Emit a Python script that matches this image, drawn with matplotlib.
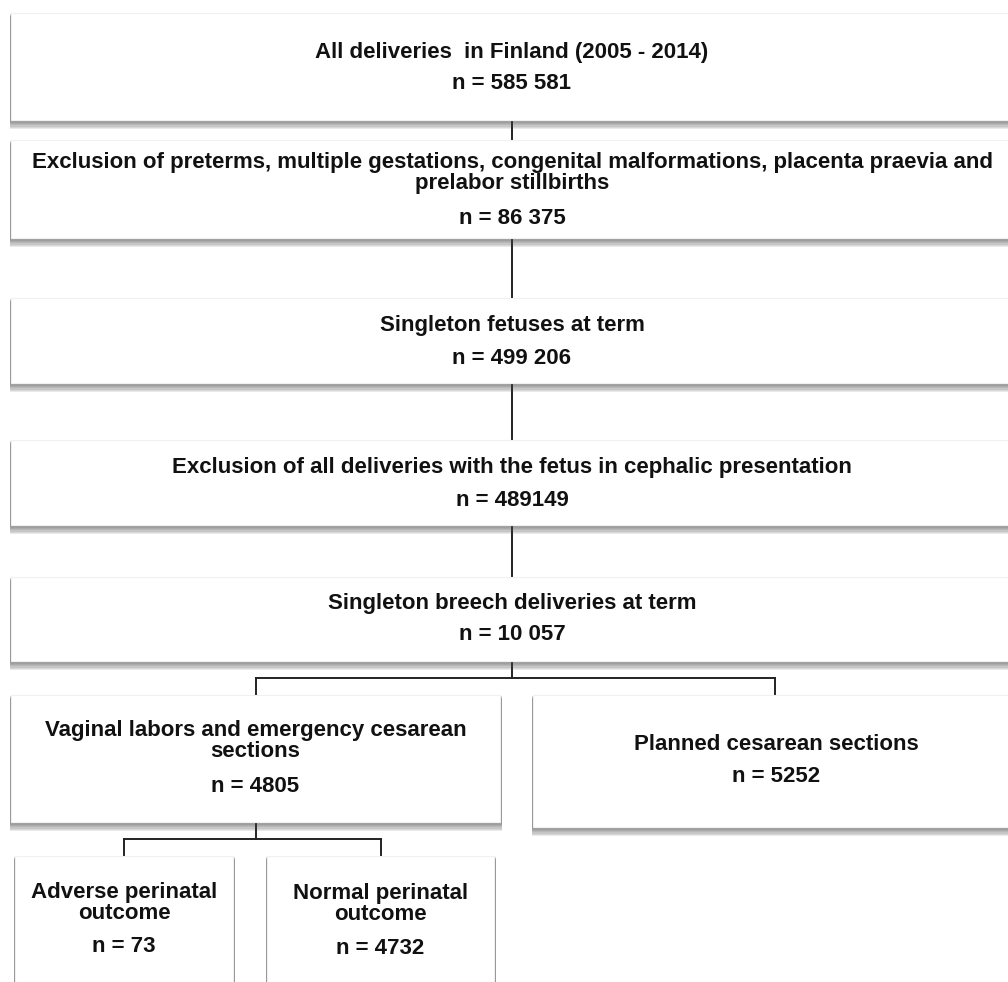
import matplotlib.pyplot as plt
from matplotlib.patches import Rectangle

# Flowchart content
titles = [
    'All deliveries  in Finland (2005 - 2014)',
    'Exclusion of preterms, multiple gestations, congenital malformations, placenta praevia and\nprelabor stillbirths',
    'Singleton fetuses at term',
    'Exclusion of all deliveries with the fetus in cephalic presentation',
    'Singleton breech deliveries at term',
    'Vaginal labors and emergency cesarean\nsections',
    'Planned cesarean sections',
    'Adverse perinatal\noutcome',
    'Normal perinatal\noutcome',
]
counts = ['585 581', '86 375', '499 206', '489149', '10 057', '4805', '5252', '73', '4732']

# layout (pixels): left, top, right, bottom, title y, count y
boxes = [
    (11, 13, 1013, 120, 52, 83),
    (11, 140, 1013, 238, 173, 218),
    (11, 298, 1013, 383, 326, 358),
    (11, 440, 1013, 525, 467, 500),
    (11, 577, 1013, 661, 604, 635),
    (11, 695, 500, 822, 741, 786),
    (533, 695, 1020, 827, 744, 777),
    (15, 856, 233, 1000, 903, 947),
    (267, 856, 494, 1000, 904, 949),
]

# parent -> children
links = [(0, [1]), (1, [2]), (2, [3]), (3, [4]), (4, [5, 6]), (5, [7, 8])]

W, H = 1008, 982
fig = plt.figure(figsize=(W / 100, H / 100), dpi=100)
ax = fig.add_axes([0, 0, 1, 1])
ax.set_xlim(0, W)
ax.set_ylim(H, 0)
ax.axis('off')

fs = 16
font = dict(family='Liberation Sans', fontweight='bold', fontsize=fs, color='#111111')

for (l, t, r, b, ty, cy), title, n in zip(boxes, titles, counts):
    # soft drop shadow
    for k in range(1, 8):
        ax.add_patch(Rectangle((l - 1.5, t + k * 0.5), r - l + 3, b - t + k * 0.8,
                               facecolor='#444444', edgecolor='none',
                               alpha=0.11, zorder=1))
    ax.add_patch(Rectangle((l, t), r - l, b - t, facecolor='white',
                           edgecolor='#f0f0f0', linewidth=0.8, zorder=2))
    cx = (l + r) / 2
    ax.text(cx, ty, title, ha='center', va='center', linespacing=1.0,
            zorder=3, **font)
    ax.text(cx, cy, 'n = ' + n, ha='center', va='center', zorder=3, **font)

lw = 1.4
for p, kids in links:
    l, t, r, b = boxes[p][:4]
    px = (l + r) / 2 if r < 1000 else 512
    if len(kids) == 1:
        kl, kt = boxes[kids[0]][0], boxes[kids[0]][1]
        ax.plot([px, px], [b, kt], color='#222222', lw=lw, zorder=0.5)
    else:
        tops = [boxes[k][1] for k in kids]
        cxs = [(boxes[k][0] + min(boxes[k][2], 1017)) / 2 for k in kids]
        mid = b + (min(tops) - b) * 0.5
        ax.plot([px, px], [b, mid], color='#222222', lw=lw, zorder=0.5)
        ax.plot([min(cxs), max(cxs)], [mid, mid], color='#222222', lw=lw, zorder=0.5)
        for x, tt in zip(cxs, tops):
            ax.plot([x, x], [mid, tt], color='#222222', lw=lw, zorder=0.5)

fig.savefig('out.png', dpi=100, facecolor='white')
